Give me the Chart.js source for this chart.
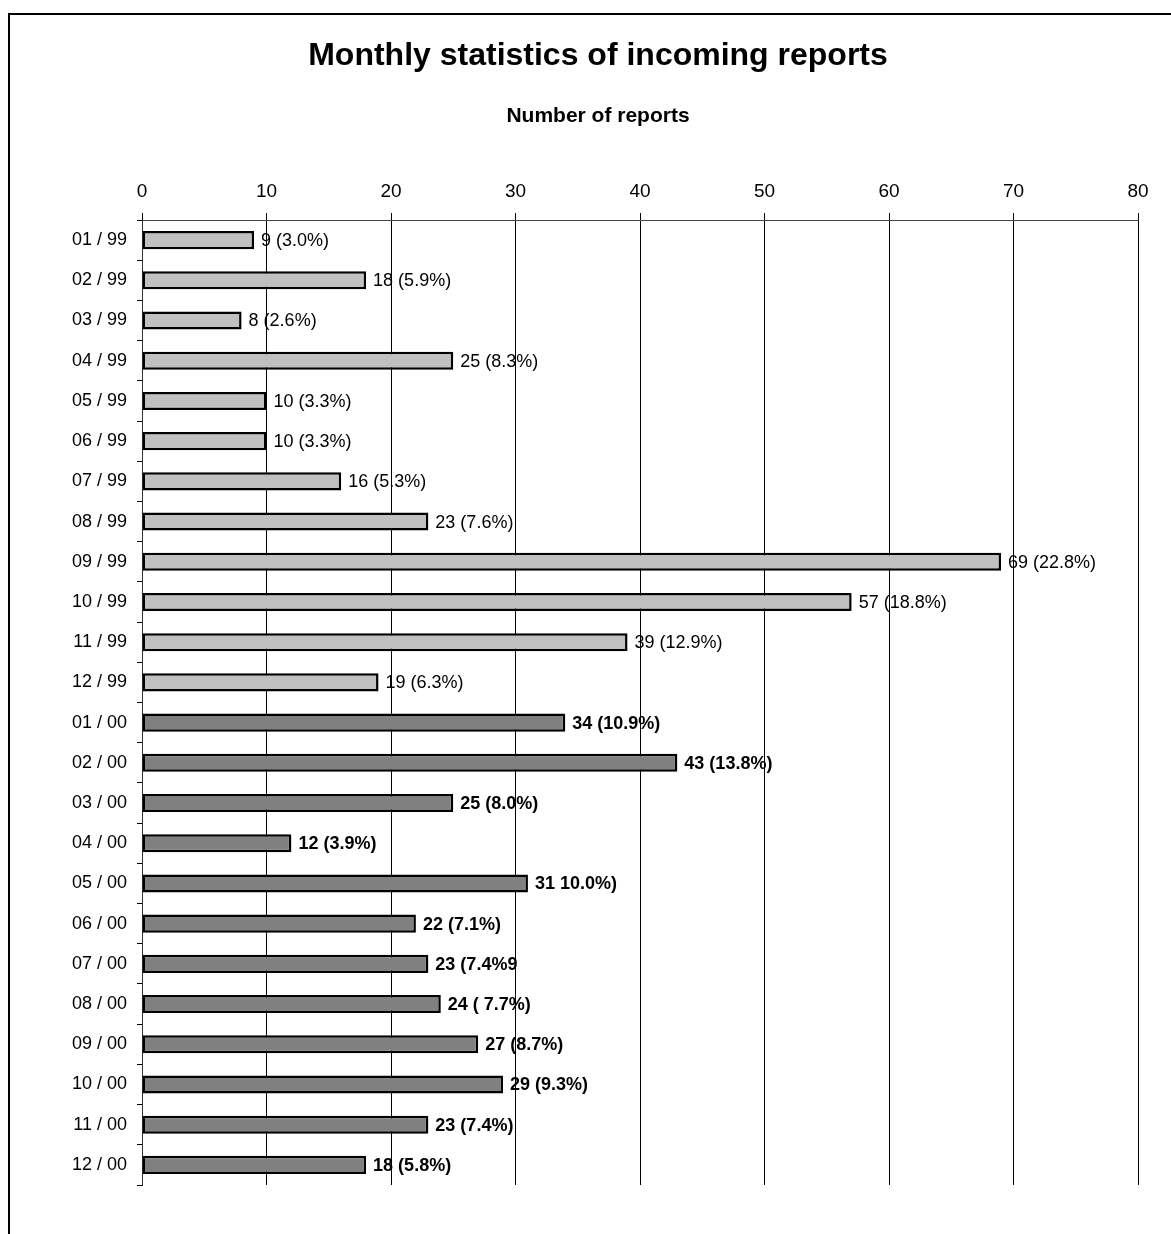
<!DOCTYPE html>
<html>
<head>
<meta charset="utf-8">
<title>Monthly statistics of incoming reports</title>
<script src="https://cdn.jsdelivr.net/npm/chart.js@4/dist/chart.umd.min.js"></script>
<style>
  html, body { margin: 0; padding: 0; background: #fff; overflow: hidden; }
  canvas { display: block; }
</style>
</head>
<body>
<canvas id="graficaInformes" width="1171" height="1234"></canvas>
<script>
// Meses (mm / aa)
const meses = [
  "01 / 99", "02 / 99", "03 / 99", "04 / 99", "05 / 99", "06 / 99",
  "07 / 99", "08 / 99", "09 / 99", "10 / 99", "11 / 99", "12 / 99",
  "01 / 00", "02 / 00", "03 / 00", "04 / 00", "05 / 00", "06 / 00",
  "07 / 00", "08 / 00", "09 / 00", "10 / 00", "11 / 00", "12 / 00"
];

// Informes recibidos por mes
const informes = [
  9, 18, 8, 25, 10, 10, 16, 23, 69, 57, 39, 19,
  34, 43, 25, 12, 31, 22, 23, 24, 27, 29, 23, 18
];

// Porcentaje anual, tal como aparece en la etiqueta
const porcentajes = [
  "(3.0%)", "(5.9%)", "(2.6%)", "(8.3%)", "(3.3%)", "(3.3%)",
  "(5.3%)", "(7.6%)", "(22.8%)", "(18.8%)", "(12.9%)", "(6.3%)",
  "(10.9%)", "(13.8%)", "(8.0%)", "(3.9%)", "10.0%)", "(7.1%)",
  "(7.4%9", "( 7.7%)", "(8.7%)", "(9.3%)", "(7.4%)", "(5.8%)"
];

const ticksX = [0, 10, 20, 30, 40, 50, 60, 70, 80];

const FUENTE = "'Liberation Sans', Arial, Helvetica, sans-serif";
const es99 = i => meses[i].endsWith("99");

// 🖼️ Marco exterior (solo borde izquierdo y superior visibles)
const marco = {
  id: "marco",
  beforeDraw(chart) {
    const ctx = chart.ctx;
    ctx.save();
    ctx.fillStyle = "#fff";
    ctx.fillRect(0, 0, chart.width, chart.height);
    ctx.fillStyle = "#000";
    ctx.fillRect(8, 13, 2, chart.height);
    ctx.fillRect(8, 13, chart.width, 2);
    ctx.restore();
  }
};

// 🏷️ Etiqueta "valor (porcentaje)" a la derecha de cada barra
const etiquetas = {
  id: "etiquetas",
  afterDatasetsDraw(chart) {
    const ctx = chart.ctx;
    const meta = chart.getDatasetMeta(0);
    ctx.save();
    ctx.fillStyle = "#000";
    ctx.textAlign = "left";
    ctx.textBaseline = "middle";
    meta.data.forEach((barra, i) => {
      ctx.font = (es99(i) ? "" : "bold ") + "18px " + FUENTE;
      ctx.fillText(`${informes[i]} ${porcentajes[i]}`, barra.x + 7, barra.y + 1);
    });
    ctx.restore();
  }
};

new Chart(document.getElementById("graficaInformes"), {
  type: "bar",
  data: {
    labels: meses,
    datasets: [{
      label: "Number of reports",
      data: informes,
      backgroundColor: ctx => es99(ctx.dataIndex) ? "#c0c0c0" : "#808080",
      borderColor: "#000",
      borderWidth: 2.5,
      borderSkipped: false,
      barPercentage: 0.9,
      categoryPercentage: 0.5
    }]
  },
  options: {
    indexAxis: "y",
    responsive: false,
    animation: false,
    devicePixelRatio: 1,
    layout: { padding: { left: 58, right: 33, top: 0, bottom: 49 } },
    plugins: {
      legend: { display: false },
      tooltip: { enabled: false },
      title: {
        display: true,
        text: "Monthly statistics of incoming reports",
        color: "#000",
        font: { family: FUENTE, size: 32, weight: "bold" },
        padding: { top: 37, bottom: 0 }
      },
      subtitle: {
        display: true,
        text: "Number of reports",
        color: "#000",
        font: { family: FUENTE, size: 21, weight: "bold" },
        padding: { top: 28, bottom: 0 }
      }
    },
    scales: {
      x: {
        position: "top",
        min: 0,
        max: 80,
        afterBuildTicks: escala => { escala.ticks = ticksX.map(v => ({ value: v })); },
        afterFit: escala => { escala.height = 91.4; },
        ticks: {
          color: "#000",
          padding: 10,
          font: { family: FUENTE, size: 19 }
        },
        grid: {
          color: "#000",
          lineWidth: 1,
          tickLength: 7,
          tickColor: "#000"
        },
        border: { color: "#444", width: 1 }
      },
      y: {
        afterFit: escala => { escala.width = 84; },
        ticks: {
          color: "#000",
          padding: 10,
          font: { family: FUENTE, size: 18 }
        },
        grid: {
          offset: true,
          drawOnChartArea: false,
          tickLength: 5,
          tickColor: "#000"
        },
        border: { color: "#333", width: 1 }
      }
    }
  },
  plugins: [marco, etiquetas]
});
</script>
</body>
</html>
